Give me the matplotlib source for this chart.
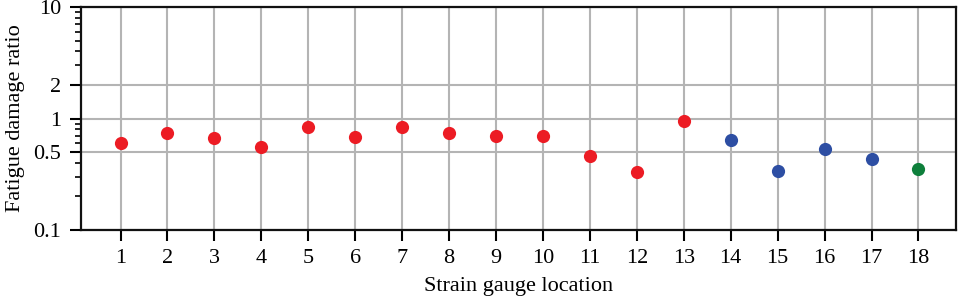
import matplotlib.pyplot as plt
from matplotlib.ticker import FixedLocator, FixedFormatter, LogLocator, NullFormatter

plt.rcParams['font.family'] = ['Liberation Serif', 'DejaVu Serif']

locations = list(range(1, 19))
ratios = [0.607, 0.736, 0.668, 0.559, 0.844, 0.678, 0.834, 0.736, 0.701,
          0.692, 0.458, 0.329, 0.95, 0.641, 0.336, 0.536, 0.430, 0.355]
groups = ['red'] * 13 + ['blue'] * 4 + ['green']
group_colors = {'red': '#ec1c24', 'blue': '#2d4ea3', 'green': '#0e7f3b'}

yticks = [0.1, 0.5, 1, 2, 10]
ytick_labels = ['0.1', '0.5', '1', '2', '10']

fig = plt.figure(figsize=(9.58, 2.99), dpi=100)
ax = fig.add_axes([80.5 / 958, 1 - 230 / 299, (956 - 80.5) / 958, (230 - 7) / 299])

ax.set_yscale('log')
ax.set_ylim(0.1, 10)
ax.set_xlim(0.147, 18.8)

for x, y, g in zip(locations, ratios, groups):
    ax.plot(x, y, 'o', color=group_colors[g], markersize=9.5, zorder=3,
            markeredgewidth=0)

ax.yaxis.set_major_locator(FixedLocator(yticks))
ax.yaxis.set_major_formatter(FixedFormatter(ytick_labels))
ax.yaxis.set_minor_locator(LogLocator(base=10, subs=range(2, 10)))
ax.yaxis.set_minor_formatter(NullFormatter())
ax.set_xticks(locations)

ax.grid(True, which='major', color='#b4b4b4', linewidth=1.5)
ax.set_axisbelow(True)

for s in ax.spines.values():
    s.set_linewidth(1.6)
    s.set_color('#111111')

ax.tick_params(axis='both', which='major', direction='out', length=8,
               width=1.5, labelsize=16, pad=6)
ax.tick_params(axis='y', which='minor', direction='out', length=4.5, width=1.2)
ax.tick_params(axis='x', pad=6)

ax.set_xlabel('Strain gauge location', fontsize=16, labelpad=6)
ax.set_ylabel('Fatigue damage ratio', fontsize=16, labelpad=6)

fig.savefig('out.png', dpi=100)
